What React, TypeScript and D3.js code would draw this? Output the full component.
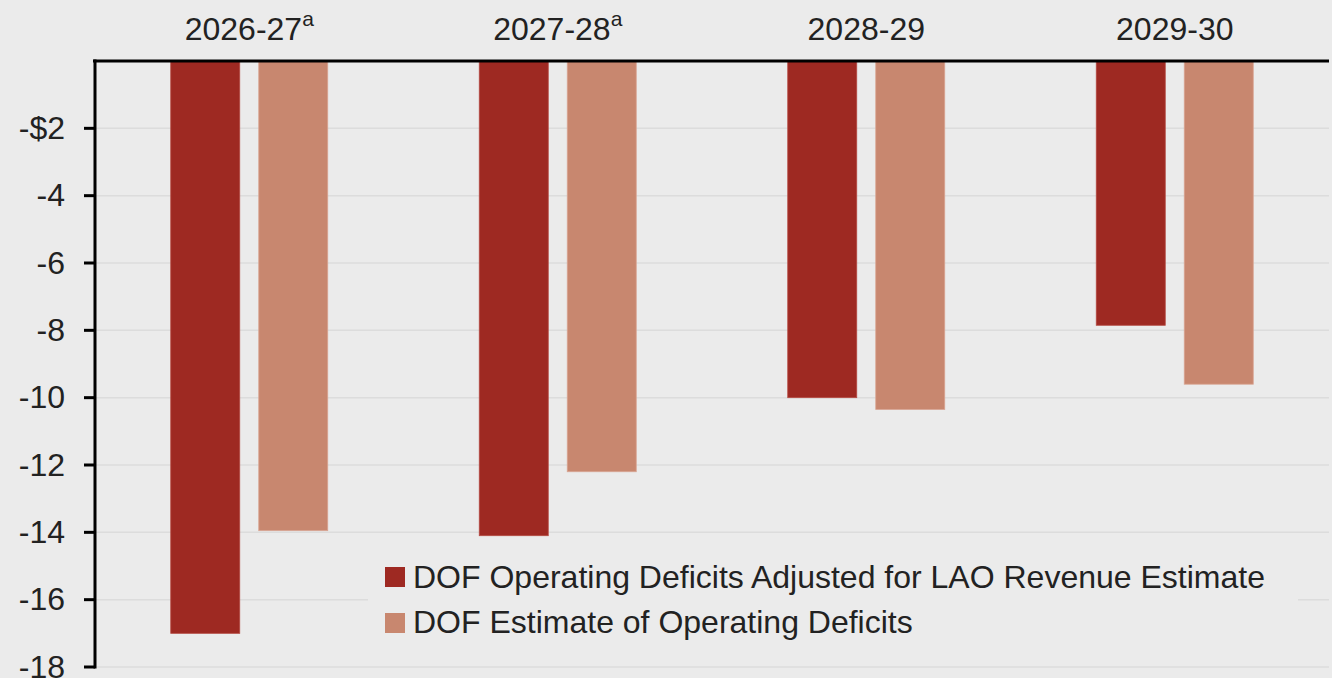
import React from "react";
import * as d3 from "d3";

const categories = ["2026-27", "2027-28", "2028-29", "2029-30"];
const superscripts = ["a", "a", "", ""];
const seriesNames = [
  "DOF Operating Deficits Adjusted for LAO Revenue Estimate",
  "DOF Estimate of Operating Deficits",
];
const adjustedValues = [-17.0, -14.1, -10.0, -7.85];
const dofValues = [-13.95, -12.2, -10.35, -9.6];
const yTicks = [-2, -4, -6, -8, -10, -12, -14, -16, -18];
const colors = ["#9e2922", "#c8876f"];

export default function App() {
  const W = 1332, H = 678;
  const left = 95, right = 1329, top = 61, bottom = 667;
  const x0 = d3.scaleBand().domain(categories).range([left, right]).paddingInner(0).paddingOuter(0);
  const y = d3.scaleLinear().domain([0, -18]).range([top, bottom]);
  const barW = 69, gap = 19;
  const series = [adjustedValues, dofValues];
  const font = "'Liberation Sans', Arial, Helvetica, sans-serif";
  return (
    <div style={{ position: "absolute", left: 0, top: 0 }}>
      <svg width={W} height={H} style={{ display: "block", background: "#ebebeb" }} fontFamily={font}>
        <rect x={0} y={0} width={W} height={H} fill="#ebebeb" />
        {yTicks.map((t) => (
          <line key={t} x1={left} x2={right} y1={y(t)} y2={y(t)} stroke="#dcdcdc" strokeWidth={1.5} />
        ))}
        {categories.map((c, i) => {
          const cx = x0(c)! + x0.bandwidth() / 2;
          return series.map((s, j) => {
            const bx = cx - (barW * 2 + gap) / 2 + j * (barW + gap);
            return (
              <rect key={c + j} x={bx} y={y(0)} width={barW} height={y(s[i]) - y(0)} fill={colors[j]}
                stroke={j === 0 ? "#b44a42" : "#d9a593"} strokeWidth={0.8} />
            );
          });
        })}
        {/* legend */}
        <rect x={368} y={546} width={930} height={96} fill="#ebebeb" />
        {seriesNames.map((n, j) => (
          <g key={n}>
            <rect x={385} y={567 + j * 46} width={20} height={20} fill={colors[j]} />
            <text x={413} y={588 + j * 45} fontSize={32} fill="#222">{n}</text>
          </g>
        ))}
        {/* axes */}
        <line x1={93} x2={1329} y1={top} y2={top} stroke="#000" strokeWidth={3} />
        <line x1={95} x2={95} y1={top - 1.5} y2={bottom + 1.5} stroke="#000" strokeWidth={3} />
        {yTicks.map((t) => (
          <g key={"t" + t}>
            <line x1={84} x2={95} y1={y(t)} y2={y(t)} stroke="#000" strokeWidth={3} />
            <text x={65} y={y(t)} dy="0.33em" textAnchor="end" fontSize={32} fill="#222">
              {t === -2 ? "-$2" : String(t)}
            </text>
          </g>
        ))}
        {categories.map((c, i) => {
          const cx = x0(c)! + x0.bandwidth() / 2;
          return (
            <text key={"c" + c} x={cx} y={40} textAnchor="middle" fontSize={32} fill="#222">
              {c}
              {superscripts[i] && (
                <tspan dy={-14} fontSize={21}>{superscripts[i]}</tspan>
              )}
            </text>
          );
        })}
      </svg>
    </div>
  );
}
